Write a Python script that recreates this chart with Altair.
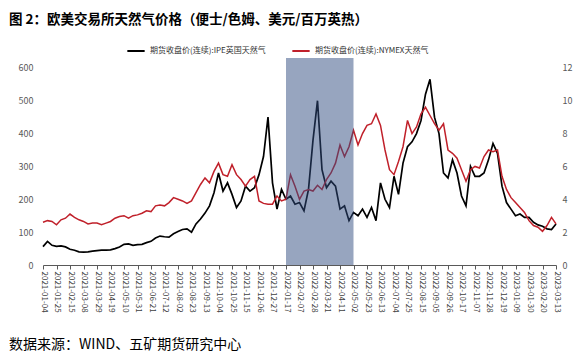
import altair as alt
import pandas as pd

# ---------------- data ----------------
start_date = "2021-01-04"
end_date = "2023-03-13"

# IPE UK natural gas, pence/therm (left axis), weekly
ipe = [56, 72, 60, 57, 58, 55, 48, 45, 40, 39,
       40, 42, 44, 45, 45, 46, 50, 55, 63, 64,
       60, 62, 63, 68, 72, 82, 88, 86, 85, 95,
       102, 108, 110, 100, 125, 140, 158, 180, 220, 280,
       225, 250, 215, 175, 195, 240, 225, 235, 275, 330,
       450, 250, 170, 230, 200,
       210, 185, 190, 165, 230, 380, 500, 290, 235, 255,
       240, 170, 180, 135, 160, 150, 170, 145, 175, 135,
       250, 200, 175, 270, 215, 310, 360, 375, 400, 440,
       520, 565, 450, 400, 280, 265, 320, 280, 210, 180,
       300, 270, 270, 280, 320, 370, 340, 240, 190, 170,
       150, 155, 145, 145, 130, 122, 118, 110, 108, 125]

# NYMEX natural gas, USD/MMBtu (right axis), weekly
nymex = [2.6, 2.7, 2.65, 2.45, 2.75, 2.85, 3.1, 2.9, 2.75, 2.65,
         2.5, 2.55, 2.55, 2.45, 2.55, 2.65, 2.85, 2.95, 3.0, 2.85,
         3.0, 3.05, 3.15, 3.3, 3.25, 3.6, 3.65, 3.6, 3.8,
         4.1, 4.0, 3.9, 3.75, 3.9, 4.4, 4.9, 5.3, 5.0, 5.7,
         6.2, 5.5, 5.4, 6.1, 5.5, 5.2, 4.8, 5.2, 5.4, 3.9,
         3.75, 3.7, 3.7, 4.2, 3.9, 4.0,
         5.5, 4.8, 4.0, 4.5, 4.6, 4.5, 4.85, 4.6, 5.2, 5.6,
         6.2, 7.3, 6.6, 7.2, 8.2, 7.3, 8.0, 8.5, 8.6, 9.2,
         8.5, 7.0, 5.8, 5.5, 6.3, 7.2, 8.8, 8.0, 8.4,
         9.2, 9.6, 9.1, 8.6, 8.2, 8.6, 7.0, 6.8, 6.5, 5.8,
         5.1, 5.8, 6.0, 5.9, 6.6, 7.0, 6.9, 7.0, 5.4, 4.6,
         4.1, 3.8, 3.5, 3.2, 2.7, 2.4, 2.3, 2.05, 2.4, 2.9,
         2.5]

tick_labels = [
    "2021-01-04", "2021-01-25", "2021-02-15", "2021-03-08", "2021-03-29",
    "2021-04-19", "2021-05-10", "2021-05-31", "2021-06-21", "2021-07-12",
    "2021-08-02", "2021-08-23", "2021-09-13", "2021-10-04", "2021-10-25",
    "2021-11-15", "2021-12-06", "2021-12-27", "2022-01-17", "2022-02-07",
    "2022-02-28", "2022-03-21", "2022-04-11", "2022-05-02", "2022-05-23",
    "2022-06-13", "2022-07-04", "2022-07-25", "2022-08-15", "2022-09-05",
    "2022-09-26", "2022-10-17", "2022-11-07", "2022-11-28", "2022-12-19",
    "2023-01-09", "2023-01-30", "2023-02-20", "2023-03-13"]

shade_start = "2022-01-17"
shade_end = "2022-05-02"

left_ticks = [0, 100, 200, 300, 400, 500, 600]
right_ticks = [0, 2, 4, 6, 8, 10, 12]

s1 = "期货收盘价(连续):IPE英国天然气"
s2 = "期货收盘价(连续):NYMEX天然气"
title_text = "图 2：欧美交易所天然气价格（便士/色姆、美元/百万英热）"
source_text = "数据来源：WIND、五矿期货研究中心"

# ---------------- build tables ----------------
def ms(d):
    return int(pd.Timestamp(d, tz="UTC").value // 10**6)

dates = pd.date_range(start_date, periods=len(ipe), freq="7D").strftime("%Y-%m-%d")
df1 = pd.DataFrame({"date": dates, "value": ipe, "series": s1})
df2 = pd.DataFrame({"date": dates, "value": nymex, "series": s2})
shade = pd.DataFrame({"start": [shade_start], "end": [shade_end], "lo": [0], "hi": [1]})
src = pd.DataFrame({"t": [source_text]})
ttl = pd.DataFrame({"t": [title_text]})

FONT = "Noto Sans CJK SC"
W, H = 513, 207

xscale = alt.Scale(type="utc", domain=[ms(start_date), ms(end_date)], nice=False)
xaxis = alt.Axis(values=[ms(t) for t in tick_labels],
                 labelExpr="utcFormat(datum.value, '%Y-%m-%d')",
                 labelAngle=90, labelFontSize=8, labelColor="#404040", labelFont=FONT,
                 tickSize=4, tickColor="#595959", domainColor="#595959", labelPadding=2,
                 grid=False, labelOverlap=False, labelFlush=False)

color = alt.Color("series:N",
                  scale=alt.Scale(domain=[s1, s2], range=["#000000", "#C0202A"]),
                  legend=alt.Legend(title=None, orient="none", legendX=83, legendY=-17,
                                    direction="horizontal", symbolType="stroke",
                                    symbolSize=300, symbolStrokeWidth=2,
                                    labelFontSize=8, labelFont=FONT, labelColor="#333333",
                                    columnPadding=22, labelLimit=0))

black = alt.Chart(df1).mark_line(strokeWidth=1.7).encode(
    x=alt.X("date:T", scale=xscale, axis=xaxis, title=None),
    y=alt.Y("value:Q", scale=alt.Scale(domain=[0, 630], nice=False),
            axis=alt.Axis(orient="left", values=left_ticks, grid=False, ticks=False, tickSize=0,
                          domain=False, labelPadding=10, labelFontSize=9,
                          labelColor="#595959", labelFont=FONT),
            title=None),
    color=color,
)

red = alt.Chart(df2).mark_line(strokeWidth=1.5).encode(
    x=alt.X("date:T", scale=xscale, axis=xaxis, title=None),
    y=alt.Y("value:Q", scale=alt.Scale(domain=[0, 12.6], nice=False),
            axis=alt.Axis(orient="right", values=right_ticks, grid=False, ticks=False, tickSize=0,
                          domain=False, labelPadding=6, labelFontSize=9,
                          labelColor="#595959", labelFont=FONT),
            title=None),
    color=color,
)

band = alt.Chart(shade).mark_rect(color="#2F4B80", opacity=0.5).encode(
    x=alt.X("start:T", scale=xscale, axis=xaxis, title=None),
    x2="end:T",
    y=alt.Y("lo:Q", scale=alt.Scale(domain=[0, 1], nice=False), axis=None),
    y2="hi:Q",
)

footer = alt.Chart(src).mark_text(align="left", baseline="middle", fontSize=14,
                                  font=FONT, color="#000000").encode(
    text="t:N", x=alt.value(-34), y=alt.value(287))

header = alt.Chart(ttl).mark_text(align="left", baseline="middle", fontSize=13.5,
                                  font=FONT, fontWeight="bold", color="#000000").encode(
    text="t:N", x=alt.value(-34), y=alt.value(-38))

chart = alt.layer(black, red, band, footer, header).resolve_scale(y="independent").properties(
    width=W, height=H,
    autosize=alt.AutoSizeParams(type="none"),
    padding={"left": 35, "top": 50, "right": 19, "bottom": 95},
    background="white",
).configure_view(stroke=None)

chart.save("out.html", embed_options={"renderer": "svg", "actions": False})
